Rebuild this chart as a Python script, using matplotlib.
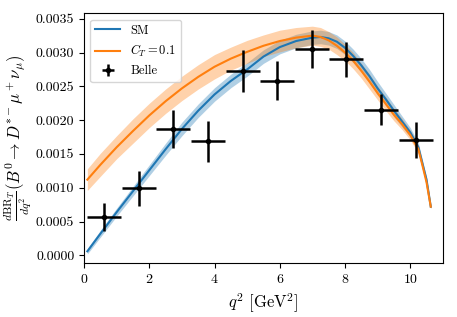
import matplotlib
matplotlib.use("Agg")
import matplotlib.pyplot as plt

plt.rcParams['font.family'] = 'serif'
plt.rcParams['font.serif'] = ['cmr10']
plt.rcParams['mathtext.fontset'] = 'cm'
plt.rcParams['axes.formatter.use_mathtext'] = True

# theory curves
q2 = [0.1, 0.5, 1.0, 1.5, 2.0, 2.5, 3.0, 3.5, 4.0, 4.5, 5.0, 5.5, 6.0, 6.5,
      7.0, 7.25, 7.5, 7.75, 8.0, 8.25, 8.5, 8.75, 9.0, 9.25, 9.5, 9.75,
      10.0, 10.25, 10.4, 10.5, 10.63]
sm = [0.00006, 0.00032, 0.00064, 0.00095, 0.00126, 0.00157, 0.00187, 0.00214,
      0.00238, 0.00258, 0.00275, 0.00294, 0.00308, 0.00317,
      0.00322, 0.00323, 0.00321, 0.00316, 0.00307, 0.00295, 0.00281, 0.00265,
      0.00247, 0.00231, 0.00214, 0.00198,
      0.00182, 0.00160, 0.00131, 0.00112, 0.00072]
sm_err = [0.00004, 0.00005, 0.00006, 0.00007, 0.00008, 0.00009, 0.00010, 0.00010,
          0.00010, 0.00010, 0.00010, 0.00010, 0.00010, 0.00010,
          0.00010, 0.00010, 0.00010, 0.00010, 0.00010, 0.00010, 0.00010, 0.00010,
          0.00010, 0.00009, 0.00009, 0.00008,
          0.00007, 0.00006, 0.00005, 0.00004, 0.00003]
ct = [0.00112, 0.00134, 0.00160, 0.00184, 0.00207, 0.00228, 0.00247, 0.00264,
      0.00279, 0.00291, 0.00301, 0.00310, 0.00317, 0.00322,
      0.00325, 0.00323, 0.00318, 0.00310, 0.00300, 0.00288, 0.00273, 0.00257,
      0.00240, 0.00224, 0.00208, 0.00194,
      0.00178, 0.00157, 0.00128, 0.00108, 0.00072]
ct_err = [0.00016, 0.00017, 0.00017, 0.00018, 0.00018, 0.00018, 0.00018, 0.00018,
          0.00018, 0.00017, 0.00017, 0.00016, 0.00016, 0.00015,
          0.00014, 0.00014, 0.00013, 0.00013, 0.00012, 0.00012, 0.00011, 0.00011,
          0.00010, 0.00010, 0.00009, 0.00008,
          0.00007, 0.00006, 0.00005, 0.00004, 0.00003]

# Belle data
belle_q2 = [0.61, 1.67, 2.74, 3.79, 4.86, 5.92, 6.98, 8.04, 9.10, 10.17]
belle_val = [0.000567, 0.00099, 0.001866, 0.001688, 0.00273, 0.002581,
             0.003055, 0.002897, 0.002152, 0.001708]
belle_err = [0.00021, 0.00026, 0.00028, 0.00030, 0.00031, 0.00029,
             0.00028, 0.00026, 0.00023, 0.00027]
belle_xerr = 0.52

fig = plt.figure(figsize=(4.57, 3.17), dpi=100)
ax = fig.add_axes([0.184, 0.171, 0.785, 0.787])

sm_lo = [v - e for v, e in zip(sm, sm_err)]
sm_hi = [v + e for v, e in zip(sm, sm_err)]
ct_lo = [v - e for v, e in zip(ct, ct_err)]
ct_hi = [v + e for v, e in zip(ct, ct_err)]

ax.plot(q2, sm, color='C0', lw=1.5, label='SM')
ax.fill_between(q2, sm_lo, sm_hi, color='C0', alpha=0.35, lw=0)
ax.plot(q2, ct, color='C1', lw=1.5, label=r'$C_T=0.1$')
ax.fill_between(q2, ct_lo, ct_hi, color='C1', alpha=0.35, lw=0)
ax.errorbar(belle_q2, belle_val, xerr=belle_xerr, yerr=belle_err, fmt='o',
            color='black', ms=3, elinewidth=1.8, capsize=0, label='Belle')

ax.set_xlim(0, 11)
ax.set_ylim(-0.00011, 0.00358)
ax.set_yticks([0, 0.0005, 0.001, 0.0015, 0.002, 0.0025, 0.003, 0.0035])
ax.set_yticklabels(['0.0000', '0.0005', '0.0010', '0.0015', '0.0020',
                    '0.0025', '0.0030', '0.0035'])
ax.tick_params(labelsize=10)
ax.set_xlabel(r'$q^2\ [\mathrm{GeV}^2]$', fontsize=12)
ax.set_ylabel(r'$\frac{d\mathrm{BR}_T}{dq^2}(B^0\to D^{*-}\mu^+\nu_\mu)$',
              fontsize=12, labelpad=1)
ax.legend(loc='upper left', fontsize=9)

fig.savefig('out.png', dpi=100)
